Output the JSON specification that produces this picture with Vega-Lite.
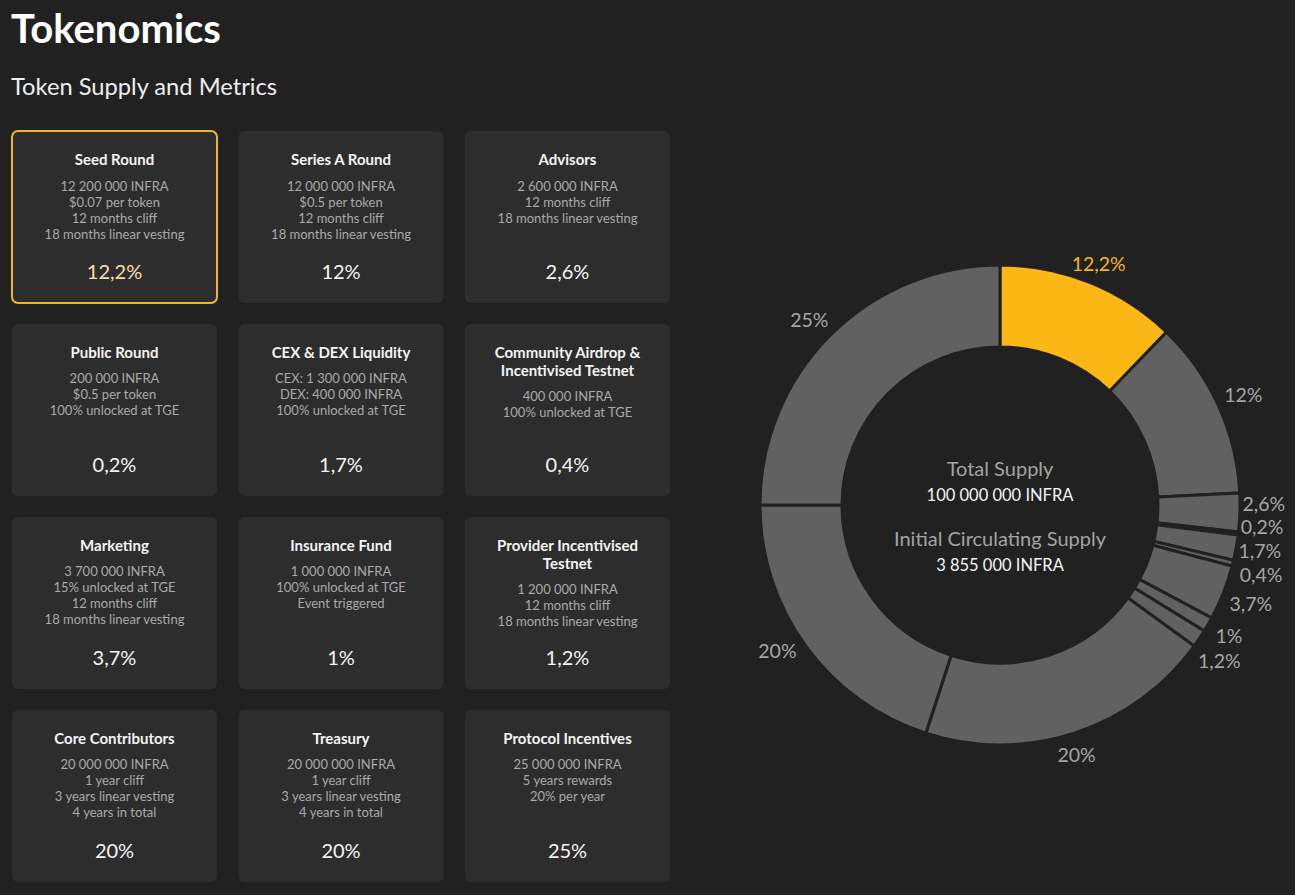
{
  "$schema": "https://vega.github.io/schema/vega-lite/v6.json",
  "background": "#212121",
  "padding": {"left": 11, "top": 11, "right": 15, "bottom": 13},
  "bounds": "flush",
  "spacing": 50,
  "title": {
    "text": "Tokenomics",
    "subtitle": "Token Supply and Metrics",
    "anchor": "start",
    "frame": "group",
    "dx": -1,
    "font": "Lato",
    "fontSize": 40,
    "fontWeight": "bold",
    "color": "#ffffff",
    "subtitleFont": "Lato",
    "subtitleFontSize": 23.7,
    "subtitleColor": "#eeeeee",
    "subtitlePadding": 25,
    "offset": 30
  },
  "datasets": {
    "alloc": [
      {"idx": 0, "col": 0, "row": 0, "tl": 1, "title": ["Seed Round"], "details": ["12 200 000 INFRA", "$0.07 per token", "12 months cliff", "18 months linear vesting"], "pct": "12,2%", "v": 12.2},
      {"idx": 1, "col": 1, "row": 0, "tl": 1, "title": ["Series A Round"], "details": ["12 000 000 INFRA", "$0.5 per token", "12 months cliff", "18 months linear vesting"], "pct": "12%", "v": 12},
      {"idx": 2, "col": 2, "row": 0, "tl": 1, "title": ["Advisors"], "details": ["2 600 000 INFRA", "12 months cliff", "18 months linear vesting"], "pct": "2,6%", "v": 2.6},
      {"idx": 3, "col": 0, "row": 1, "tl": 1, "title": ["Public Round"], "details": ["200 000 INFRA", "$0.5 per token", "100% unlocked at TGE"], "pct": "0,2%", "v": 0.2},
      {"idx": 4, "col": 1, "row": 1, "tl": 1, "title": ["CEX & DEX Liquidity"], "details": ["CEX: 1 300 000 INFRA", "DEX: 400 000 INFRA", "100% unlocked at TGE"], "pct": "1,7%", "v": 1.7},
      {"idx": 5, "col": 2, "row": 1, "tl": 2, "title": ["Community Airdrop &", "Incentivised Testnet"], "details": ["400 000 INFRA", "100% unlocked at TGE"], "pct": "0,4%", "v": 0.4},
      {"idx": 6, "col": 0, "row": 2, "tl": 1, "title": ["Marketing"], "details": ["3 700 000 INFRA", "15% unlocked at TGE", "12 months cliff", "18 months linear vesting"], "pct": "3,7%", "v": 3.7},
      {"idx": 7, "col": 1, "row": 2, "tl": 1, "title": ["Insurance Fund"], "details": ["1 000 000 INFRA", "100% unlocked at TGE", "Event triggered"], "pct": "1%", "v": 1},
      {"idx": 8, "col": 2, "row": 2, "tl": 2, "title": ["Provider Incentivised", "Testnet"], "details": ["1 200 000 INFRA", "12 months cliff", "18 months linear vesting"], "pct": "1,2%", "v": 1.2},
      {"idx": 9, "col": 0, "row": 3, "tl": 1, "title": ["Core Contributors"], "details": ["20 000 000 INFRA", "1 year cliff", "3 years linear vesting", "4 years in total"], "pct": "20%", "v": 20},
      {"idx": 10, "col": 1, "row": 3, "tl": 1, "title": ["Treasury"], "details": ["20 000 000 INFRA", "1 year cliff", "3 years linear vesting", "4 years in total"], "pct": "20%", "v": 20},
      {"idx": 11, "col": 2, "row": 3, "tl": 1, "title": ["Protocol Incentives"], "details": ["25 000 000 INFRA", "5 years rewards", "20% per year"], "pct": "25%", "v": 25}
    ],
    "supply": [
      {"i": 0, "label": "Total Supply", "amount": "100 000 000 INFRA"},
      {"i": 1, "label": "Initial Circulating Supply", "amount": "3 855 000 INFRA"}
    ]
  },
  "hconcat": [
    {
      "width": 658,
      "height": 751,
      "data": {"name": "alloc"},
      "layer": [
        {
          "mark": {"type": "rect", "cornerRadius": 6, "fill": "#2d2d2d", "strokeWidth": 2},
          "encoding": {
            "x": {"field": "col", "type": "ordinal", "scale": {"paddingInner": 0.095, "paddingOuter": 0}, "axis": null},
            "y": {"field": "row", "type": "ordinal", "scale": {"paddingInner": 0.1088, "paddingOuter": 0}, "axis": null},
            "stroke": {"condition": {"test": "datum.idx == 0", "value": "#f2b52a"}, "value": "transparent"}
          }
        },
        {
          "mark": {"type": "text", "font": "Lato", "fontWeight": "bold", "fontSize": 15, "color": "#f4f4f4", "baseline": "alphabetic", "align": "center", "dy": 34, "lineHeight": 18},
          "encoding": {
            "x": {"field": "col", "type": "ordinal", "bandPosition": 0.5},
            "y": {"field": "row", "type": "ordinal", "bandPosition": 0},
            "text": {"field": "title"}
          }
        },
        {
          "transform": [{"filter": "datum.tl == 1"}],
          "mark": {"type": "text", "font": "Lato", "fontSize": 13, "color": "#a9a9a9", "baseline": "alphabetic", "align": "center", "dy": 59.5, "lineHeight": 16},
          "encoding": {
            "x": {"field": "col", "type": "ordinal", "bandPosition": 0.5},
            "y": {"field": "row", "type": "ordinal", "bandPosition": 0},
            "text": {"field": "details"}
          }
        },
        {
          "transform": [{"filter": "datum.tl == 2"}],
          "mark": {"type": "text", "font": "Lato", "fontSize": 13, "color": "#a9a9a9", "baseline": "alphabetic", "align": "center", "dy": 77.5, "lineHeight": 16},
          "encoding": {
            "x": {"field": "col", "type": "ordinal", "bandPosition": 0.5},
            "y": {"field": "row", "type": "ordinal", "bandPosition": 0},
            "text": {"field": "details"}
          }
        },
        {
          "mark": {"type": "text", "font": "Lato", "fontSize": 20, "baseline": "alphabetic", "align": "center", "dy": -24},
          "encoding": {
            "x": {"field": "col", "type": "ordinal", "bandPosition": 0.5},
            "y": {"field": "row", "type": "ordinal", "bandPosition": 1},
            "text": {"field": "pct"},
            "color": {"condition": {"test": "datum.idx == 0", "value": "#f6e0a6"}, "value": "#f4f4f4"}
          }
        }
      ]
    },
    {
      "width": 560,
      "height": 748,
      "layer": [
        {
          "data": {"name": "alloc"},
          "mark": {"type": "arc", "innerRadius": 158, "outerRadius": 240, "stroke": "#212121", "strokeWidth": 3},
          "encoding": {
            "theta": {"field": "v", "type": "quantitative", "stack": true},
            "order": {"field": "idx", "type": "quantitative"},
            "color": {"condition": {"test": "datum.idx == 0", "value": "#fbb716"}, "value": "#616161"}
          }
        },
        {
          "data": {"name": "alloc"},
          "mark": {
            "type": "text", "radius": 264, "font": "Lato", "fontSize": 19.5, "baseline": "middle", "align": "center",
            "dy": {"expr": "datum.idx == 0 ? 5 : datum.idx == 2 ? -8 : datum.idx == 3 ? -8 : datum.idx == 5 ? 7 : datum.idx == 6 ? 4 : datum.idx == 8 ? 10 : datum.idx == 10 ? -8 : datum.idx == 11 ? 3 : 0"},
            "dx": {"expr": "datum.idx == 5 || datum.idx == 6 ? 5 : datum.idx == 1 ? 3 : datum.idx == 9 ? -5 : datum.idx == 10 ? -9 : datum.idx == 11 ? -4 : 0"}
          },
          "encoding": {
            "theta": {"field": "v", "type": "quantitative", "stack": true},
            "order": {"field": "idx", "type": "quantitative"},
            "text": {"field": "pct"},
            "color": {"condition": {"test": "datum.idx == 0", "value": "#f5b623"}, "value": "#a6a6a6"}
          }
        },
        {
          "data": {"name": "supply"},
          "transform": [{"filter": "datum.i == 0"}],
          "layer": [
            {"mark": {"type": "text", "font": "Lato", "fontSize": 20, "color": "#a3a3a3", "baseline": "alphabetic", "align": "center", "dy": -29}, "encoding": {"text": {"field": "label"}}},
            {"mark": {"type": "text", "font": "Lato", "fontSize": 16.5, "color": "#f4f4f4", "baseline": "alphabetic", "align": "center", "dy": -4}, "encoding": {"text": {"field": "amount"}}}
          ]
        },
        {
          "data": {"name": "supply"},
          "transform": [{"filter": "datum.i == 1"}],
          "layer": [
            {"mark": {"type": "text", "font": "Lato", "fontSize": 20, "color": "#a3a3a3", "baseline": "alphabetic", "align": "center", "dy": 41}, "encoding": {"text": {"field": "label"}}},
            {"mark": {"type": "text", "font": "Lato", "fontSize": 16.5, "color": "#f4f4f4", "baseline": "alphabetic", "align": "center", "dy": 66}, "encoding": {"text": {"field": "amount"}}}
          ]
        }
      ]
    }
  ],
  "config": {"view": {"stroke": null}, "font": "Lato"}
}
